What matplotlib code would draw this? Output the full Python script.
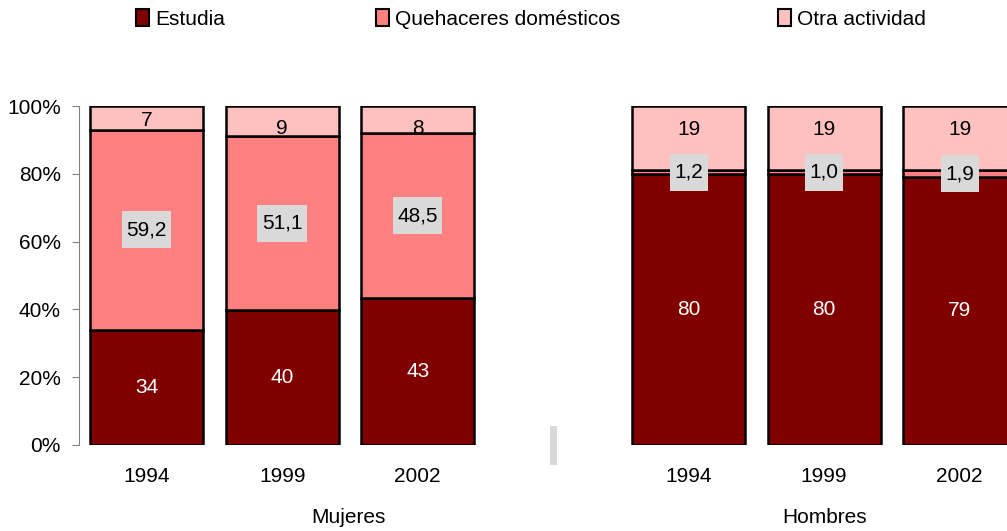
import numpy as np
import matplotlib
matplotlib.use("Agg")
import matplotlib.pyplot as plt
from matplotlib.patches import Rectangle, Patch
from matplotlib.ticker import FuncFormatter

plt.rcParams['font.family'] = ['Liberation Sans', 'DejaVu Sans']
plt.rcParams['font.size'] = 15

# --- Datos ---
anios = ["1994", "1999", "2002"]
grupos = ["Mujeres", "Hombres"]
series = ["Estudia", "Quehaceres domésticos", "Otra actividad"]
estudia_muj = [34, 40, 43]
quehaceres_muj = [59.2, 51.1, 48.5]
otra_muj = [7, 9, 8]
estudia_hom = [80, 80, 79]
quehaceres_hom = [1.2, 1.0, 1.9]
otra_hom = [19, 19, 19]

col_estudia = "#800000"
col_queh = "#FF8080"
col_otra = "#FFC0C0"
colores = [col_estudia, col_queh, col_otra]

estudia = np.array(estudia_muj + estudia_hom, dtype=float)
queh = np.array(quehaceres_muj + quehaceres_hom, dtype=float)
otra = np.array(otra_muj + otra_hom, dtype=float)
total = estudia + queh + otra

# 100% apilado
p_est = estudia / total * 100
p_que = queh / total * 100
p_otr = otra / total * 100

pos = np.array([0, 1, 2, 4, 5, 6])
ancho = 0.834
# posicion vertical de las etiquetas de "Otra actividad" (colocadas a mano)
y_otra_lbl = [95.6, 93.5, 93.5, 93.2, 93.2, 93.2]

W, H = 1007, 531
fig = plt.figure(figsize=(W / 100, H / 100), dpi=100)
ax = fig.add_axes([79 / W, 1 - 445 / H, 1 - 79 / W, (445 - 106) / H])

kw = dict(width=ancho, edgecolor="black", linewidth=1.8)
ax.bar(pos, p_est, color=col_estudia, **kw)
ax.bar(pos, p_que, bottom=p_est, color=col_queh, **kw)
ax.bar(pos, p_otr, bottom=p_est + p_que, color=col_otra, **kw)

ax.set_xlim(-0.5, 6.35)
ax.set_ylim(0, 100)

etiquetas_q = []
for i, x in enumerate(pos):
    ax.text(x, p_est[i] / 2, f"{estudia[i]:.0f}", color="white",
            ha="center", va="center")
    t = ax.text(x, p_est[i] + p_que[i] / 2, f"{queh[i]:.1f}".replace(".", ","),
                color="black", ha="center", va="center", zorder=5)
    etiquetas_q.append(t)
    ax.text(x, y_otra_lbl[i], f"{otra[i]:.0f}", color="black",
            ha="center", va="center")

# cajas grises detras de las etiquetas de quehaceres
fig.canvas.draw()
r = fig.canvas.get_renderer()
inv = ax.transData.inverted()
for t in etiquetas_q:
    bb = t.get_window_extent(r)
    cx, cy = (bb.x0 + bb.x1) / 2, (bb.y0 + bb.y1) / 2
    w, h = bb.width + 9, 37
    (x0, y0), (x1, y1) = inv.transform([(cx - w / 2, cy - h / 2),
                                        (cx + w / 2, cy + h / 2)])
    ax.add_patch(Rectangle((x0, y0), x1 - x0, y1 - y0, fc="#D9D9D9",
                           ec="none", zorder=4))

# caja gris vacia entre los grupos
ax.add_patch(Rectangle((3 - 0.026, -5.9), 0.052, 11.5, fc="#D9D9D9",
                       ec="none", clip_on=False))

ax.set_yticks(np.arange(0, 101, 20))
ax.yaxis.set_major_formatter(FuncFormatter(lambda v, p: f"{v:.0f}%"))
ax.set_xticks(pos)
ax.set_xticklabels(anios * 2)
ax.tick_params(axis="x", length=0, pad=16)
ax.tick_params(axis="y", length=5, pad=8, color="#808080")
for s in ["top", "right", "bottom"]:
    ax.spines[s].set_visible(False)
ax.spines["left"].set_color("#808080")

ax.text(1.49, -0.215, grupos[0], transform=ax.get_xaxis_transform(),
        ha="center", va="center")
ax.text(5.0, -0.215, grupos[1], transform=ax.get_xaxis_transform(),
        ha="center", va="center")

# leyenda: tres entradas separadas
x_leyenda = [136, 376, 778]
for nombre, c, xl in zip(series, colores, x_leyenda):
    fig.legend([Patch(fc=c, ec="black", lw=1.5)], [nombre],
               loc="center left", bbox_to_anchor=(xl / W, 1 - 19 / H),
               frameon=False, handlelength=0.62, handleheight=0.85,
               handletextpad=0.3, borderpad=0, borderaxespad=0)

fig.savefig("out.png", dpi=100)
